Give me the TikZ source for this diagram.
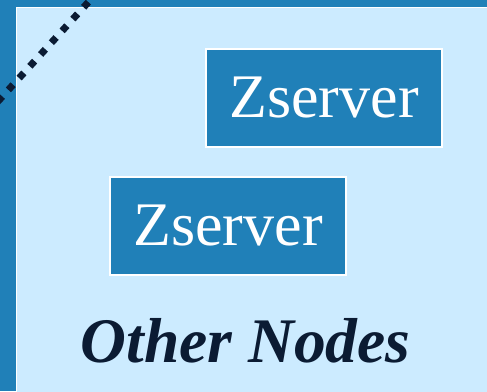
\documentclass[tikz,border=0pt]{standalone}
\usepackage{fontspec}
\setmainfont{Liberation Serif}
\usepackage{xcolor}
\definecolor{zblue}{HTML}{2080B8}
\definecolor{zlight}{HTML}{CCEBFF}
\definecolor{znavy}{HTML}{0B1B33}
\usetikzlibrary{calc}

\begin{document}
\begin{tikzpicture}[x=1pt, y=1pt,
    zbox/.style={rectangle, draw=white, line width=2pt, fill=zblue, text=white,
      minimum width=236pt, minimum height=98pt, inner sep=0pt,
      font=\fontsize{62}{70}\selectfont},
    zdot/.style={rectangle, fill=znavy, rotate=47.7, minimum size=7pt, inner sep=0pt}]
      \useasboundingbox (0,0) rectangle (487,391);
      \clip (0,0) rectangle (487,391);
      \fill[zblue] (0,0) rectangle (487,391);
      \draw[white, line width=1.2pt, fill=zlight] (16.5,383.5) rectangle (500,-10);

      % dotted line, one diamond per step
      \foreach \k in {0,...,8}
        \node[zdot] (dot\k) at ({86-10.75*\k},{386.3-11.8*\k}) {};

      \node[zbox] (1) at (324,293) {Zserver};
      \node[zbox] (2) at (228,165) {Zserver};
      \node[anchor=base, text=znavy, inner sep=0pt, font=\fontsize{63.5}{70}\selectfont\bfseries\itshape] (3) at (245.5,29) {Other Nodes};
    \end{tikzpicture}
\end{document}
